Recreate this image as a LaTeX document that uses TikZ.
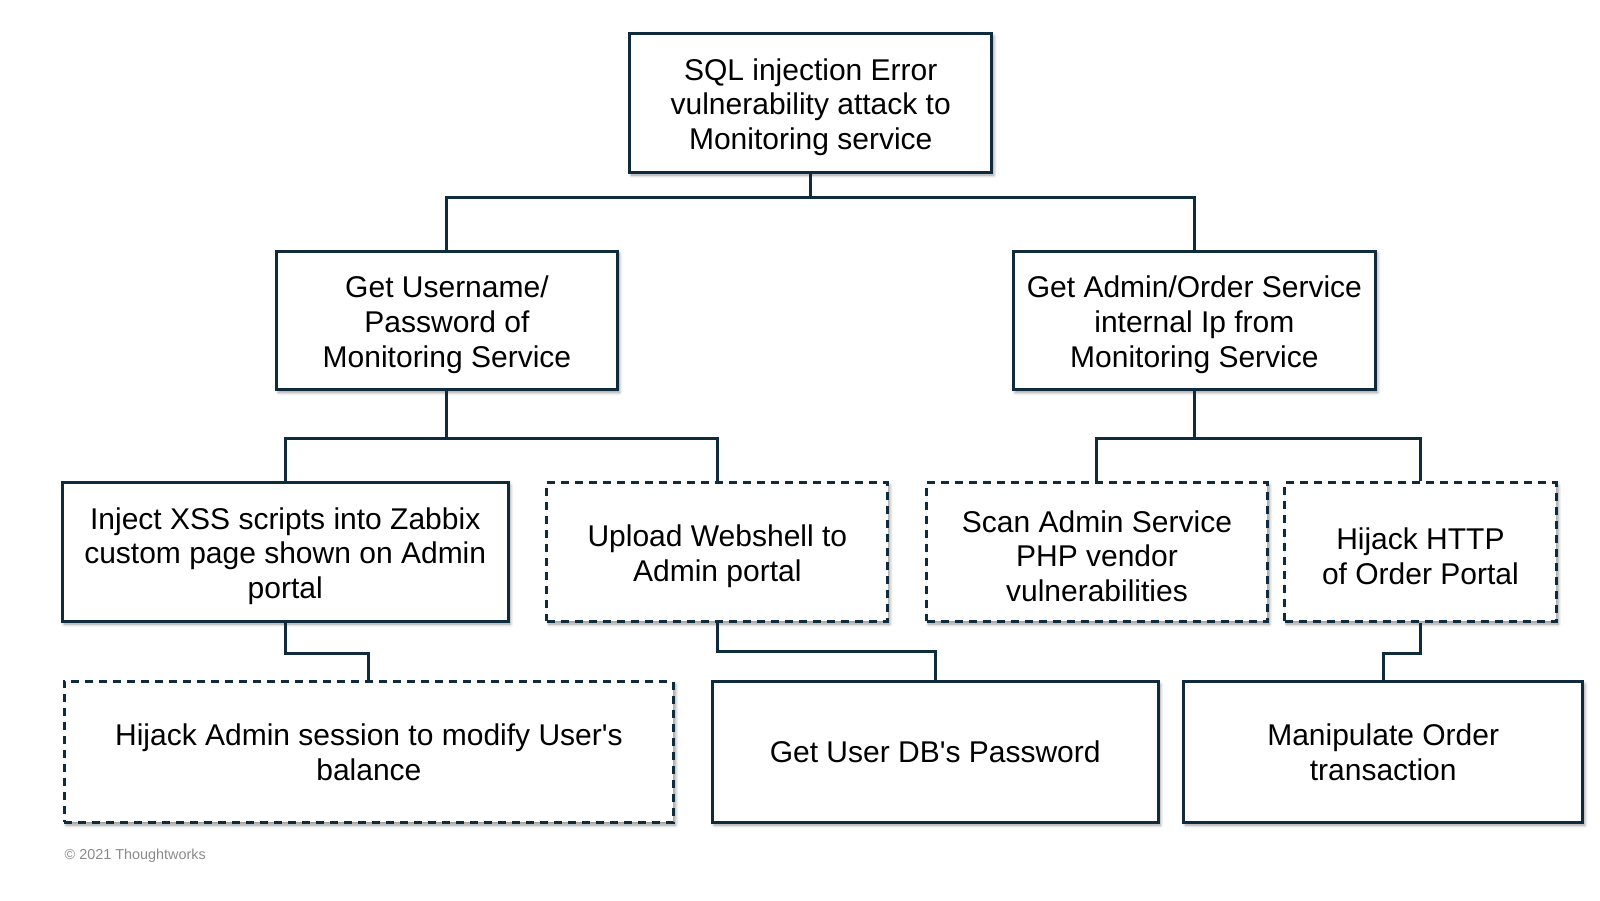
\documentclass[tikz,border=0pt]{standalone}
\usepackage{fontspec}
\setmainfont{Liberation Sans}[Ligatures=TeXOff]
\usetikzlibrary{shadows.blur}
\definecolor{edge}{HTML}{0F2B3C}
\definecolor{copy}{HTML}{8A8A8A}
\newcommand{\toppad}{\rule{0pt}{15pt}}
\tikzset{
  box/.style={draw=edge, line width=1.5pt, fill=white, inner sep=0pt, align=center,
    minimum height=69.4pt, font=\fontsize{15pt}{17.4pt}\selectfont,
    blur shadow={shadow xshift=1pt, shadow yshift=-1.3pt, shadow blur steps=6, shadow opacity=40, shadow blur radius=1.6pt}},
  dbox/.style={box, dash pattern=on 4pt off 3pt},
  link/.style={draw=edge, line width=1.5pt}
}
\begin{document}
\begin{tikzpicture}[x=0.5102pt,y=-0.5102pt]
\useasboundingbox (0,0) rectangle (1568,882);
\node[box, minimum width=181.1pt] (top) at (794.5,101) {\toppad SQL injection Error\\vulnerability attack to\\Monitoring service};
\node[box, minimum width=170.4pt] (ml) at (438,314) {\toppad Get Username/\\Password of\\Monitoring Service};
\node[box, minimum width=181.1pt] (mr) at (1170.5,314) {\toppad Get Admin/Order Service\\internal Ip from\\Monitoring Service};
\node[box, minimum width=223pt] (xss) at (279.5,541) {\toppad Inject XSS scripts into Zabbix\\custom page shown on Admin\\portal};
\node[dbox, minimum width=170.4pt] (web) at (703,541) {\toppad Upload Webshell to\\Admin portal};
\node[dbox, minimum width=170.4pt] (scan) at (1075,541) {\toppad Scan Admin Service\\PHP vendor\\vulnerabilities};
\node[dbox, minimum width=135.7pt] (http) at (1392,541) {\toppad Hijack HTTP\\of Order Portal};
\node[dbox, minimum width=304.6pt, minimum height=70.4pt] (sess) at (361.5,737) {Hijack Admin session to modify User's\\balance};
\node[box, minimum width=223pt, minimum height=70.4pt] (db) at (916.5,737) {Get User DB's Password};
\node[box, minimum width=199.5pt, minimum height=70.4pt] (ord) at (1355.5,737) {Manipulate Order\\transaction};
\node[anchor=west, text=copy, font=\fontsize{7.2pt}{8.6pt}\selectfont, inner sep=0pt] (cr) at (63,839) {© 2021 Thoughtworks};

\draw[link] (top.south) -- (top.south |- 0,194) -| (ml.north);
\draw[link] (top.south |- 0,194) -| (mr.north);
\draw[link] (ml.south) -- (ml.south |- 0,430) -| (xss.north);
\draw[link] (ml.south |- 0,430) -| (web.north);
\draw[link] (mr.south) -- (mr.south |- 0,430) -| (scan.north);
\draw[link] (mr.south |- 0,430) -| (http.north);
\draw[link] (xss.south) -- (xss.south |- 0,640) -| (sess.north);
\draw[link] (web.south) -- (web.south |- 0,638) -| (db.north);
\draw[link] (http.south) -- (http.south |- 0,640) -| (ord.north);
\end{tikzpicture}
\end{document}
